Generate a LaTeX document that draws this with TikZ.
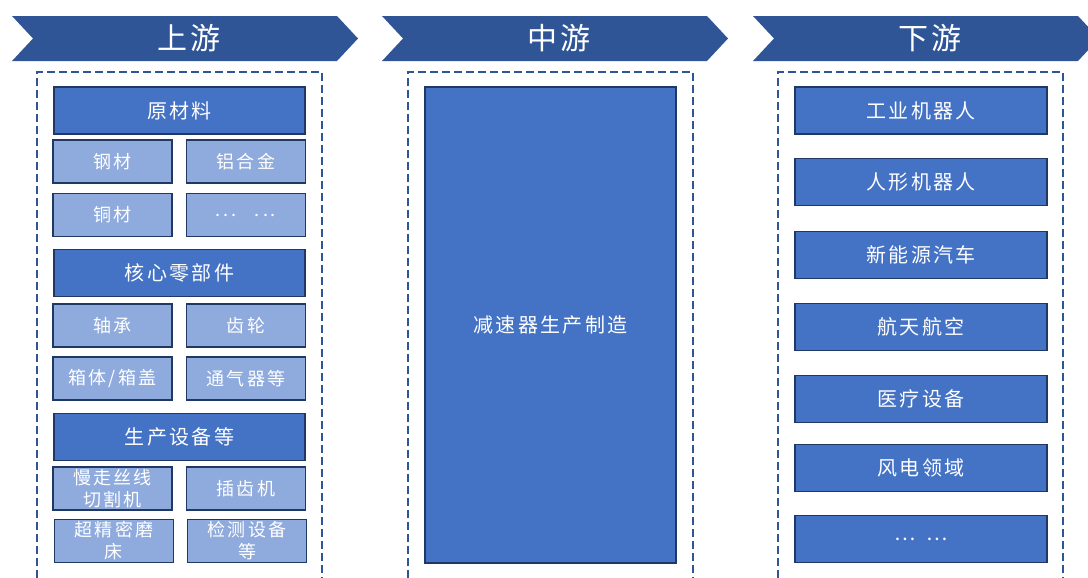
\documentclass[tikz,border=0pt]{standalone}
\usepackage{fontspec}
\newfontfamily\cjk[LetterSpace=12]{Noto Sans CJK SC}
\usetikzlibrary{positioning}
\definecolor{headblue}{HTML}{2F5597}
\definecolor{boxblue}{HTML}{4472C4}
\definecolor{edgeblue}{HTML}{1F3864}
\definecolor{lightblue}{HTML}{8FAADC}
\tikzset{
  x=0.5pt, y=-0.5pt,
  chev/.style={fill=headblue},
  head/.style={text=white, font=\cjk\fontsize{15}{18}\selectfont},
  frame/.style={draw=headblue, line width=0.8pt, dash pattern=on 4pt off 2pt},
  bigbox/.style={rectangle, draw=edgeblue, fill=boxblue, line width=0.6pt,
    text=white, inner sep=0pt, minimum width=125.5pt, minimum height=23.5pt,
    font=\cjk\fontsize{10}{12}\selectfont},
  smallbox/.style={rectangle, draw=edgeblue, fill=lightblue, line width=0.6pt,
    text=white, inner sep=0pt, align=center, minimum width=59.5pt, minimum height=21.5pt,
    font=\cjk\fontsize{9}{11}\selectfont},
}
\begin{document}
\begin{tikzpicture}
  \useasboundingbox (0,0) rectangle (1088,578);

  % headers
  \fill[chev] (12,16) -- (337,16) -- (358,38.5) -- (337,61) -- (12,61) -- (33,38.5) -- cycle;
  \fill[chev] (382,16) -- (707,16) -- (728,38.5) -- (707,61) -- (382,61) -- (403,38.5) -- cycle;
  \fill[chev] (753,16) -- (1078,16) -- (1099,38.5) -- (1078,61) -- (753,61) -- (774,38.5) -- cycle;
  \node[head] (up) at (189,38.5) {上游};
  \node[head] (mid) at (559,38.5) {中游};
  \node[head] (down) at (930,38.5) {下游};

  % dashed frames (open at the bottom)
  \draw[frame] (37,590) -- (37,72) -- (322,72) -- (322,590);
  \draw[frame] (408,590) -- (408,72) -- (693,72) -- (693,590);
  \draw[frame] (778,590) -- (778,72) -- (1063,72) -- (1063,590);

  % upstream
  \node[bigbox] (raw) at (179.5,110.5) {原材料};
  \node[smallbox] (steel) at (112.5,161.5) {钢材};
  \node[smallbox] (alu) at (246,161.5) {铝合金};
  \node[smallbox] (copper) at (112.5,215) {铜材};
  \node[smallbox] (rawmore) at (246,215) {.\,.\,.\quad.\,.\,.};
  \node[bigbox] (core) at (179.5,273) {核心零部件};
  \node[smallbox] (bearing) at (112.5,325.5) {轴承};
  \node[smallbox] (gear) at (246,325.5) {齿轮};
  \node[smallbox] (housing) at (112.5,378.5) {箱体/箱盖};
  \node[smallbox] (vent) at (246,378.5) {通气器等};
  \node[bigbox] (equip) at (179.5,437) {生产设备等};
  \node[smallbox] (wire) at (112.5,488.5) {慢走丝线\\切割机};
  \node[smallbox] (shaper) at (246,488.5) {插齿机};
  \node[smallbox] (grind) at (114,541) {超精密磨\\床};
  \node[smallbox] (test) at (247,541) {检测设备\\等};

  % midstream
  \node[bigbox, minimum height=238pt] (make) at (550.5,325) {减速器生产制造};

  % downstream
  \node[bigbox, minimum width=126pt] (robot) at (921,110.5) {工业机器人};
  \node[bigbox, minimum width=126pt] (human) at (921,182) {人形机器人};
  \node[bigbox, minimum width=126pt] (ev) at (921,255) {新能源汽车};
  \node[bigbox, minimum width=126pt] (aero) at (921,327) {航天航空};
  \node[bigbox, minimum width=126pt] (med) at (921,399) {医疗设备};
  \node[bigbox, minimum width=126pt] (wind) at (921,468) {风电领域};
  \node[bigbox, minimum width=126pt] (more) at (921,539) {…\enspace…};
\end{tikzpicture}
\end{document}
